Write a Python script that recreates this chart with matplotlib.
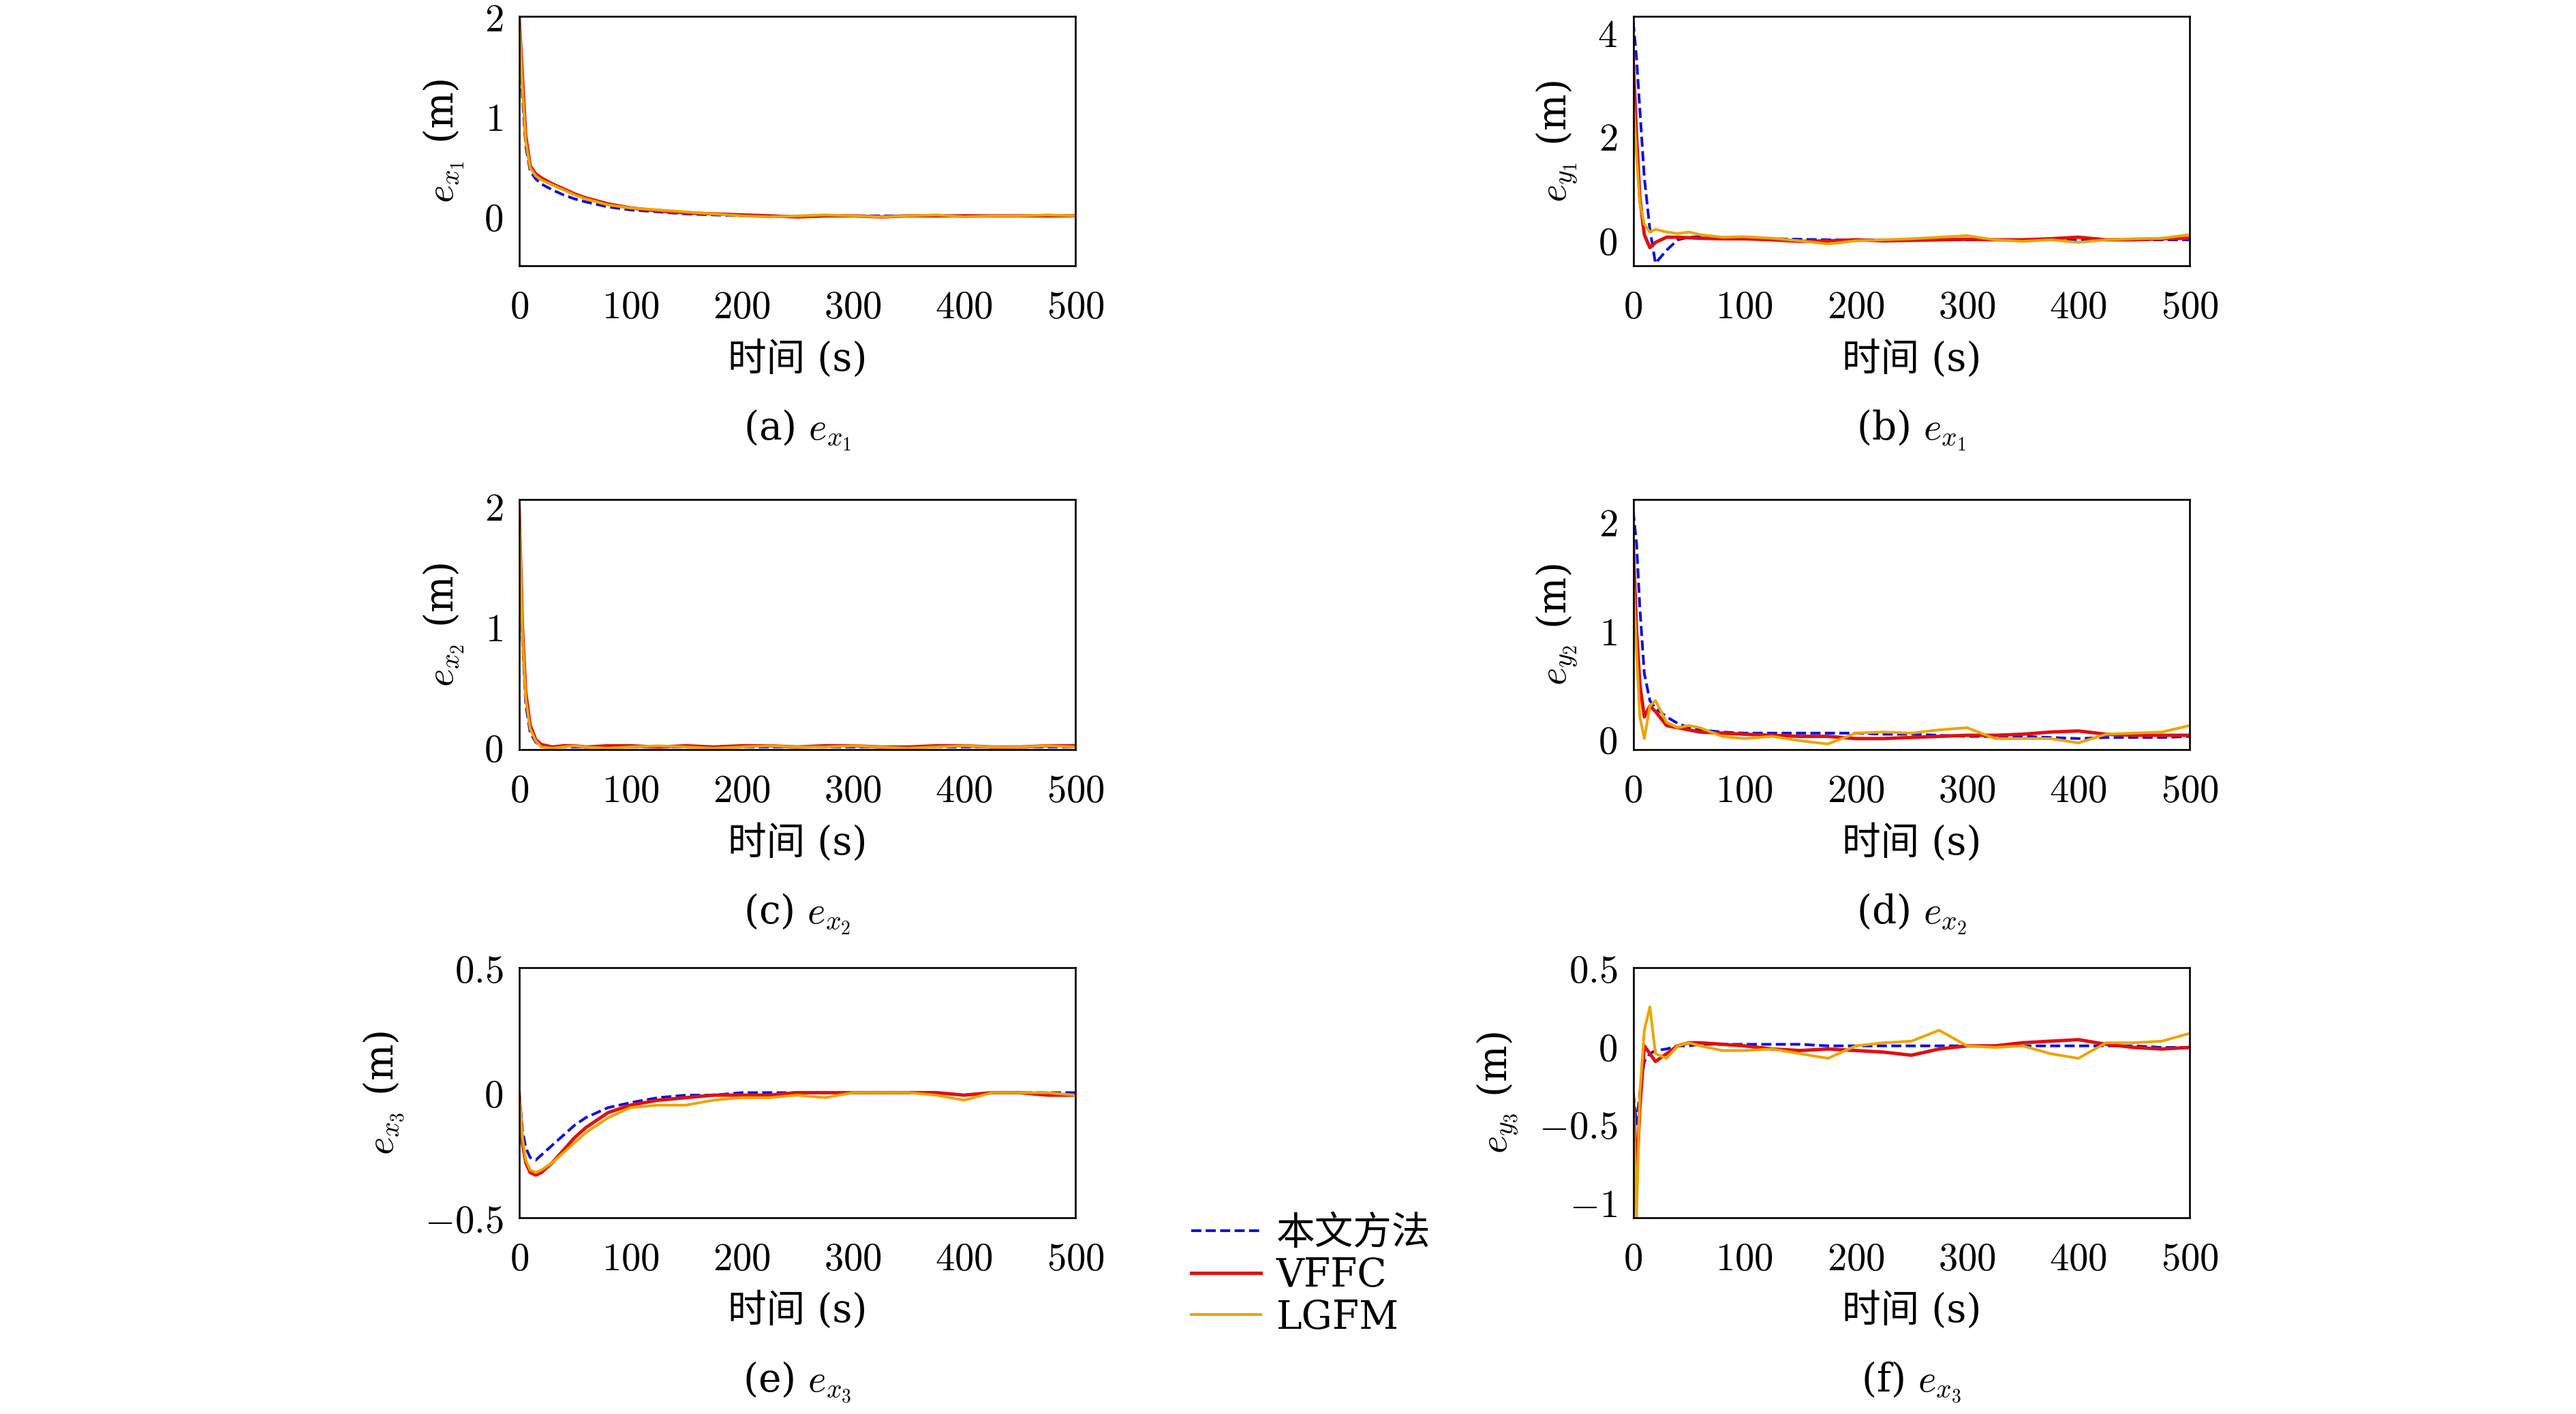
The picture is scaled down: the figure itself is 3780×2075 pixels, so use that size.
import matplotlib
matplotlib.use("Agg")
import matplotlib.pyplot as plt

plt.rcParams["font.family"] = ["DejaVu Serif", "Noto Sans CJK SC"]
plt.rcParams["mathtext.fontset"] = "cm"
plt.rcParams["axes.unicode_minus"] = True

# sample times (s)
t = [0, 3, 6, 10, 15, 20, 30, 40, 50, 60, 80, 100, 125, 150, 175, 200,
     225, 250, 275, 300, 325, 350, 375, 400, 425, 450, 475, 500]

ex1_ours = [2.0, 1.2, 0.7, 0.45, 0.37, 0.32, 0.26, 0.21, 0.17, 0.14, 0.09, 0.06, 0.04, 0.02, 0.01, 0.0,
            0.0, -0.01, 0.0, 0.0, 0.0, 0.0, 0.0, 0.0, 0.0, 0.0, 0.0, 0.0]
ex1_vffc = [2.0, 1.4, 0.8, 0.5, 0.42, 0.38, 0.32, 0.27, 0.22, 0.18, 0.12, 0.08, 0.05, 0.03, 0.02, 0.01,
            0.0, -0.01, 0.0, 0.0, -0.01, 0.0, 0.0, 0.0, 0.0, 0.0, 0.0, 0.0]
ex1_lgfm = [2.0, 1.3, 0.75, 0.48, 0.4, 0.36, 0.31, 0.26, 0.21, 0.17, 0.11, 0.08, 0.06, 0.04, 0.02, 0.0,
            -0.01, 0.0, 0.01, 0.0, -0.01, 0.0, 0.01, -0.01, 0.0, 0.0, 0.01, 0.0]

ey1_ours = [4.2, 3.5, 2.5, 1.2, 0.2, -0.45, -0.2, 0.0, 0.05, 0.06, 0.05, 0.03, 0.02, 0.01, 0.0, 0.0,
            0.0, 0.0, 0.0, 0.0, 0.0, 0.0, 0.0, 0.0, 0.0, 0.0, 0.0, 0.0]
ey1_vffc = [3.5, 2.0, 0.8, 0.1, -0.15, -0.05, 0.05, 0.05, 0.04, 0.03, 0.02, 0.02, 0.0, -0.03, -0.02, 0.0,
            -0.02, -0.01, 0.0, 0.01, 0.0, 0.0, 0.02, 0.05, 0.0, 0.0, 0.02, 0.03]
ey1_lgfm = [2.8, 1.6, 0.7, 0.3, 0.15, 0.2, 0.15, 0.12, 0.15, 0.1, 0.05, 0.06, 0.03, -0.02, -0.08, -0.02,
            0.0, 0.02, 0.05, 0.08, 0.0, -0.03, 0.0, -0.05, 0.0, 0.02, 0.03, 0.1]

ex2_ours = [2.0, 0.9, 0.35, 0.12, 0.04, 0.01, 0.0, 0.0, 0.0, 0.0, 0.0, 0.0, 0.0, 0.0, 0.0, 0.0,
            0.0, 0.0, 0.0, 0.0, 0.0, 0.0, 0.0, 0.0, 0.0, 0.0, 0.0, 0.0]
ex2_vffc = [2.0, 1.0, 0.45, 0.18, 0.06, 0.02, 0.0, 0.01, 0.01, 0.0, 0.01, 0.01, 0.0, 0.01, 0.0, 0.01,
            0.01, 0.0, 0.01, 0.01, 0.0, 0.0, 0.01, 0.01, 0.0, 0.0, 0.01, 0.01]
ex2_lgfm = [2.0, 0.95, 0.4, 0.15, 0.05, 0.0, -0.01, 0.0, 0.01, 0.0, -0.01, 0.0, 0.01, 0.0, -0.01, 0.0,
            0.01, 0.0, 0.0, 0.01, 0.0, -0.01, 0.0, 0.01, 0.0, 0.0, 0.01, 0.0]

ey2_ours = [2.1, 1.8, 1.2, 0.6, 0.35, 0.28, 0.2, 0.14, 0.1, 0.08, 0.06, 0.05, 0.05, 0.05, 0.05, 0.05,
            0.04, 0.04, 0.03, 0.02, 0.02, 0.02, 0.01, 0.0, 0.01, 0.01, 0.01, 0.02]
ey2_vffc = [1.8, 1.0, 0.5, 0.2, 0.3, 0.25, 0.12, 0.1, 0.08, 0.06, 0.05, 0.04, 0.03, 0.02, 0.02, 0.0,
            0.0, 0.01, 0.02, 0.03, 0.03, 0.04, 0.06, 0.07, 0.04, 0.03, 0.03, 0.03]
ey2_lgfm = [1.5, 0.8, 0.2, 0.0, 0.3, 0.35, 0.15, 0.1, 0.12, 0.1, 0.02, 0.0, 0.02, -0.02, -0.05, 0.05,
            0.06, 0.05, 0.08, 0.1, 0.0, 0.0, 0.0, -0.04, 0.04, 0.05, 0.06, 0.12]

ex3_ours = [0.0, -0.15, -0.22, -0.26, -0.27, -0.25, -0.21, -0.17, -0.13, -0.1, -0.06, -0.04, -0.02, -0.01, -0.01, 0.0,
            0.0, 0.0, 0.0, 0.0, 0.0, 0.0, 0.0, -0.01, 0.0, 0.0, 0.0, 0.0]
ex3_vffc = [0.0, -0.2, -0.28, -0.32, -0.33, -0.32, -0.28, -0.23, -0.18, -0.14, -0.08, -0.05, -0.03, -0.02, -0.01, -0.01,
            -0.01, 0.0, 0.0, 0.0, 0.0, 0.0, 0.0, -0.01, 0.0, 0.0, -0.01, -0.01]
ex3_lgfm = [0.0, -0.18, -0.27, -0.31, -0.32, -0.31, -0.28, -0.24, -0.2, -0.16, -0.1, -0.06, -0.05, -0.05, -0.03, -0.02,
            -0.02, -0.01, -0.02, 0.0, 0.0, 0.0, -0.01, -0.03, 0.0, 0.0, 0.0, -0.01]

ey3_ours = [-0.3, -0.5, -0.3, -0.1, -0.05, -0.03, -0.02, 0.0, 0.0, 0.01, 0.01, 0.01, 0.01, 0.01, 0.0, 0.0,
            0.0, 0.0, 0.0, 0.0, 0.0, 0.0, 0.0, 0.0, 0.0, 0.0, -0.01, -0.01]
ey3_vffc = [-0.3, -0.85, -0.4, 0.0, -0.05, -0.1, -0.05, 0.0, 0.02, 0.02, 0.01, 0.0, -0.02, -0.03, -0.02, -0.03,
            -0.04, -0.06, -0.02, 0.0, 0.0, 0.02, 0.03, 0.04, 0.01, -0.01, -0.02, -0.01]
ey3_lgfm = [-0.3, -1.1, -0.3, 0.1, 0.25, -0.05, -0.08, 0.0, 0.02, 0.0, -0.03, -0.03, -0.02, -0.05, -0.08, 0.0,
            0.02, 0.03, 0.1, 0.0, -0.01, 0.0, -0.05, -0.08, 0.02, 0.02, 0.03, 0.08]

panels = [
    ("(a)", "x_1", "$e_{x_1}$", ex1_ours, ex1_vffc, ex1_lgfm, (-0.5, 2.0), [0, 1, 2]),
    ("(b)", "y_1", "$e_{x_1}$", ey1_ours, ey1_vffc, ey1_lgfm, (-0.5, 4.3), [0, 2, 4]),
    ("(c)", "x_2", "$e_{x_2}$", ex2_ours, ex2_vffc, ex2_lgfm, (-0.02, 2.05), [0, 1, 2]),
    ("(d)", "y_2", "$e_{x_2}$", ey2_ours, ey2_vffc, ey2_lgfm, (-0.1, 2.2), [0, 1, 2]),
    ("(e)", "x_3", "$e_{x_3}$", ex3_ours, ex3_vffc, ex3_lgfm, (-0.5, 0.5), [-0.5, 0, 0.5]),
    ("(f)", "y_3", "$e_{x_3}$", ey3_ours, ey3_vffc, ey3_lgfm, (-1.1, 0.5), [-1.0, -0.5, 0, 0.5]),
]

fig = plt.figure(figsize=(15.75, 8.646), dpi=240)
lefts = [0.2015, 0.634]
bottoms = [0.812, 0.470, 0.139]
fs = 17

for i, (tag, sub, cap, ours, vffc, lgfm, ylim, yt) in enumerate(panels):
    ax = fig.add_axes([lefts[i % 2], bottoms[i // 2], 0.216, 0.1765])
    l1, = ax.plot(t, ours, "--", color="#1010e0", lw=1.2, label="本文方法")
    l2, = ax.plot(t, vffc, color="#e01010", lw=1.5, label="VFFC")
    l3, = ax.plot(t, lgfm, color="#eda400", lw=1.2, label="LGFM")
    ax.set_xlim(0, 500)
    ax.set_ylim(*ylim)
    ax.set_xticks([0, 100, 200, 300, 400, 500])
    ax.set_yticks(yt)
    ax.set_yticklabels([f"${v:g}$" for v in yt])
    ax.set_xticklabels([f"${v}$" for v in [0, 100, 200, 300, 400, 500]])
    ax.tick_params(direction="in", length=0, labelsize=fs)
    ax.tick_params(axis="x", pad=10)
    ax.tick_params(axis="y", pad=7)
    ax.set_xlabel("时间 (s)", fontsize=fs, labelpad=6)
    ax.set_ylabel(f"$e_{{{sub}}}$ (m)", fontsize=fs, labelpad=8)
    ax.text(0.5, -0.57, f"{tag} {cap}", transform=ax.transAxes, ha="center",
            va="top", fontsize=fs)

fig.legend([l1, l2, l3], ["本文方法", "VFFC", "LGFM"], loc="center left",
           bbox_to_anchor=(0.455, 0.098), frameon=False, fontsize=fs,
           handlelength=1.8, labelspacing=0.1, borderpad=0, handletextpad=0.4)

fig.savefig("out.png", dpi=240)
